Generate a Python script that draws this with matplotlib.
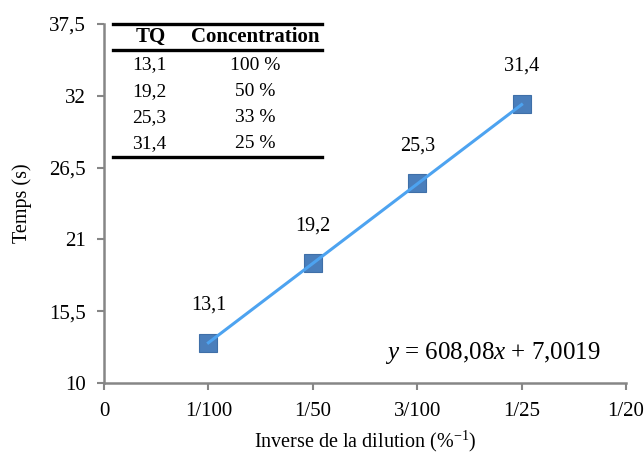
import matplotlib
matplotlib.use('Agg')
import matplotlib.pyplot as plt
from matplotlib.lines import Line2D
import numpy as np

# data
inv_dilution = [0.01, 0.02, 0.03, 0.04]
temps = [13.1, 19.2, 25.3, 31.4]
point_labels = ['13,1', '19,2', '25,3', '31,4']
slope, intercept = 608.08, 7.0019

x_ticks = [0, 0.01, 0.02, 0.03, 0.04, 0.05]
x_ticklabels = ['0', '1/100', '1/50', '3/100', '1/25', '1/20']
y_ticks = [10, 15.5, 21, 26.5, 32, 37.5]

table_tq = ['13,1', '19,2', '25,3', '31,4']
table_conc = ['100 %', '50 %', '33 %', '25 %']

plt.rcParams['font.family'] = ['Liberation Serif', 'DejaVu Serif']
plt.rcParams['mathtext.fontset'] = 'custom'
plt.rcParams['mathtext.rm'] = 'Liberation Serif'
plt.rcParams['mathtext.it'] = 'Liberation Serif:italic'

fig = plt.figure(figsize=(6.44, 4.53), dpi=100)
ax = fig.add_axes([104/644, 1-383/453, (626-104)/644, (383-24)/453])

grey = '#868686'
ax.plot(inv_dilution, temps, 's', ms=13, color='#4a7ebb', mec='#3f6fa8', mew=0.8, zorder=3)
xf = np.array([inv_dilution[0], inv_dilution[-1]])
ax.plot(xf, slope*xf + intercept, color='#4da3f0', lw=2.2, zorder=4)

for x, y, s in zip(inv_dilution, temps, point_labels):
    ax.annotate(s, (x, y), xytext=(0, 20), textcoords='offset points',
                ha='center', va='bottom', fontsize=14.5)

ax.set_xlim(0, 0.05)
ax.set_ylim(10, 37.5)
ax.set_xticks(x_ticks)
ax.set_xticklabels(x_ticklabels)
ax.set_yticks(y_ticks)
ax.set_yticklabels([f'{v:g}'.replace('.', ',') for v in y_ticks])
ax.tick_params(labelsize=15, color=grey, length=5, width=1.5)
ax.tick_params(axis='x', pad=9)
ax.tick_params(axis='y', pad=8)

for side in ['top', 'right']:
    ax.spines[side].set_visible(False)
for side in ['left', 'bottom']:
    ax.spines[side].set_color(grey)
    ax.spines[side].set_linewidth(1.8)

ax.set_ylabel('Temps (s)', fontsize=14.5, labelpad=12)
ax.set_xlabel('Inverse de la dilution (%$^{-1}$)', fontsize=14.5, labelpad=5)

ax.text(0.0476, 12.3, '$y$ = 608,08$x$ + 7,0019', fontsize=18, ha='right', va='center')

# table top-left
W, H = 644, 453
def fx(px): return px / W
def fy(py): return 1 - py / H
for py in [24, 50, 157]:
    fig.add_artist(Line2D([fx(113), fx(322)], [fy(py), fy(py)], color='black', lw=2.4))
fig.text(fx(151), fy(37), 'TQ', fontsize=15, fontweight='bold', ha='center', va='center')
fig.text(fx(255), fy(37), 'Concentration', fontsize=15, fontweight='bold', ha='center', va='center')
for i, (a, b) in enumerate(zip(table_tq, table_conc)):
    yy = fy(65 + i*26.3)
    fig.text(fx(149), yy, a, fontsize=14, ha='center', va='center')
    fig.text(fx(255), yy, b, fontsize=14, ha='center', va='center')

fig.savefig('out.png', dpi=100)
